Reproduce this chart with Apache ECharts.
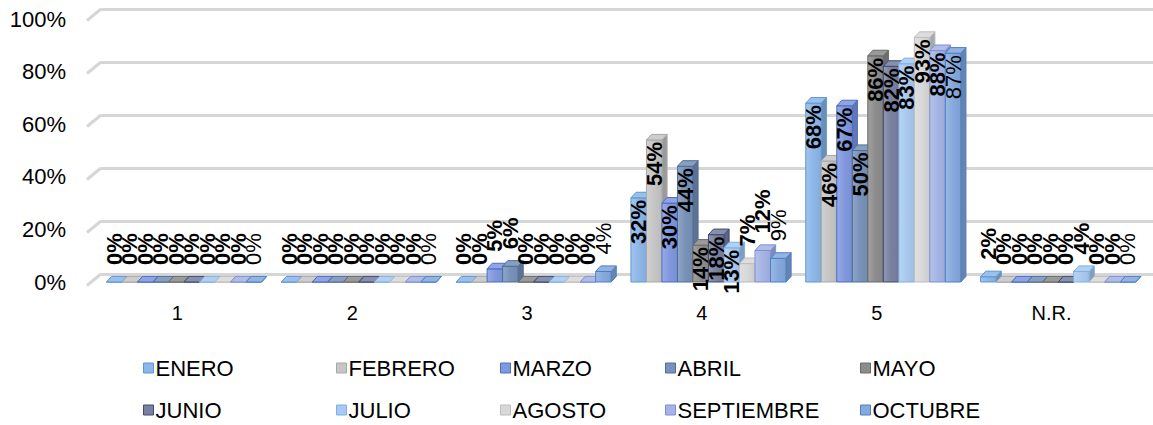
<!DOCTYPE html>
<html>
<head>
<meta charset="utf-8">
<script src="https://cdn.jsdelivr.net/npm/echarts@6/dist/echarts.min.js"></script>
<style>
  html, body { margin: 0; padding: 0; background: #ffffff; }
  #chart { width: 1153px; height: 425px; }
</style>
</head>
<body>
<div id="chart"></div>
<script>
// Answer categories and the share (%) of each month per answer
const categories = ['1', '2', '3', '4', '5', 'N.R.'];
const months = ['ENERO', 'FEBRERO', 'MARZO', 'ABRIL', 'MAYO', 'JUNIO', 'JULIO', 'AGOSTO', 'SEPTIEMBRE', 'OCTUBRE'];
const enero      = [0, 0, 0, 32, 68, 2];
const febrero    = [0, 0, 0, 54, 46, 0];
const marzo      = [0, 0, 5, 30, 67, 0];
const abril      = [0, 0, 6, 44, 50, 0];
const mayo       = [0, 0, 0, 14, 86, 0];
const junio      = [0, 0, 0, 18, 82, 0];
const julio      = [0, 0, 0, 13, 83, 4];
const agosto     = [0, 0, 0, 7, 93, 0];
const septiembre = [0, 0, 0, 12, 88, 0];
const octubre    = [0, 0, 4, 9, 87, 0];
const yTicks = [0, 20, 40, 60, 80, 100];

const monthValues = [enero, febrero, marzo, abril, mayo, junio, julio, agosto, septiembre, octubre];

// Fill and edge colours of each month's columns
const faceColors = ['#8db7e8', '#c6c6c6', '#8198de', '#7892b8', '#8c8c8c', '#79819f', '#a9caef', '#d8d8d8', '#a5b4e4', '#85a9dd'];
const edgeColors = ['#5d97d6', '#a8a8a8', '#4a6ccc', '#4d6e9c', '#6a6a6a', '#3e4a75', '#7db0e8', '#bdbdbd', '#7d91d8', '#4b80c8'];

// Legend placement, two rows of five
const legendSpots = [
  [143, 357], [336, 357], [500, 357], [665, 357], [860, 357],
  [143, 399], [336, 399], [500, 399], [665, 399], [860, 399]
];

const FONT = "'Liberation Sans', Arial, sans-serif";

function shade(hex, f) {
  const n = parseInt(hex.slice(1), 16);
  let r = (n >> 16) & 255, g = (n >> 8) & 255, b = n & 255;
  const t = f < 0 ? 0 : 255, p = Math.abs(f);
  r = Math.round(r + (t - r) * p);
  g = Math.round(g + (t - g) * p);
  b = Math.round(b + (t - b) * p);
  return 'rgb(' + r + ',' + g + ',' + b + ')';
}

// Draws one month's column as a small box: front, top and right side faces
function makeColumn(si) {
  const face = faceColors[si], edge = edgeColors[si];
  return function (params, api) {
    const cat = api.value(0);
    const v = api.value(1);
    const base = api.coord([cat, 0]);
    const top = api.coord([cat, v]);
    const band = api.size([1, 0])[0];
    const slot = band * 0.0887;
    const x0 = base[0] - band * 0.406 + si * slot;
    const x1 = x0 + slot;
    const dx = slot * 0.33, dy = slot * 0.36;
    const y0 = base[1], yt = top[1];

    const frontFill = new echarts.graphic.LinearGradient(0, 0, 1, 0, [
      { offset: 0, color: shade(face, 0.18) },
      { offset: 0.5, color: face },
      { offset: 1, color: shade(face, -0.06) }
    ]);

    const children = [
      {
        type: 'polygon',
        shape: { points: [[x1, yt], [x1 + dx, yt - dy], [x1 + dx, y0 - dy], [x1, y0]] },
        style: { fill: shade(face, -0.22), stroke: edge, lineWidth: 1 }
      },
      {
        type: 'rect',
        shape: { x: x0, y: yt, width: slot, height: y0 - yt },
        style: { fill: frontFill, stroke: edge, lineWidth: 1 }
      },
      {
        type: 'polygon',
        shape: { points: [[x0, yt], [x1, yt], [x1 + dx, yt - dy], [x0 + dx, yt - dy]] },
        style: { fill: shade(face, 0.12), stroke: edge, lineWidth: 1 }
      }
    ];

    // Value label, written upward along the column
    const outside = v < 13;
    children.push({
      type: 'text',
      x: (x0 + x1) / 2,
      y: outside ? yt - 17 : yt + 2,
      rotation: Math.PI / 2,
      z2: 100,
      style: {
        text: v + '%',
        fill: '#000000',
        font: (si === 9 ? 'normal' : 'bold') + ' 22px ' + FONT,
        align: outside ? 'left' : 'right',
        verticalAlign: 'middle'
      }
    });

    return { type: 'group', children: children };
  };
}

// Short slanted strokes joining the floor/wall lines to the left edge
function wallCorner(params, api) {
  const p = api.coord([0, api.value(0)]);
  return {
    type: 'line',
    shape: { x1: p[0] - 14, y1: p[1] + 11.5, x2: p[0], y2: p[1] },
    style: { stroke: '#d6d6d6', lineWidth: 3 }
  };
}

const chart = echarts.init(document.getElementById('chart'), null, { renderer: 'svg' });

const legends = months.map((m, i) => ({
  data: [m],
  left: legendSpots[i][0],
  top: legendSpots[i][1],
  icon: 'rect',
  itemWidth: 10,
  itemHeight: 10,
  itemGap: 0,
  selectedMode: false,
  padding: 0,
  textStyle: { fontFamily: FONT, fontSize: 22, color: '#000000', padding: [0, 0, 0, -3] },
  itemStyle: { borderWidth: 1 }
}));

const series = months.map((m, si) => ({
  type: 'custom',
  name: m,
  xAxisIndex: 0,
  yAxisIndex: 0,
  renderItem: makeColumn(si),
  itemStyle: { color: faceColors[si], borderColor: edgeColors[si], borderWidth: 1 },
  encode: { x: 0, y: 1 },
  clip: false,
  data: monthValues[si].map((v, ci) => [ci, v])
}));

series.unshift({
  type: 'custom',
  name: 'wall',
  xAxisIndex: 1,
  yAxisIndex: 1,
  renderItem: wallCorner,
  encode: { y: 0 },
  clip: false,
  silent: true,
  data: yTicks.map(t => [t])
});

chart.setOption({
  animation: false,
  backgroundColor: '#ffffff',
  legend: legends,
  grid: [
    { left: 90, right: 14, top: 19, bottom: 143 },
    { left: 101, right: 0, top: 9, bottom: 151 }
  ],
  xAxis: [
    {
      type: 'category',
      gridIndex: 0,
      data: categories,
      axisLine: { show: false },
      axisTick: { show: false },
      axisLabel: { color: '#000000', fontSize: 20, fontFamily: FONT, margin: 21 }
    },
    {
      type: 'value',
      gridIndex: 1,
      min: 0,
      max: 1,
      show: false
    }
  ],
  yAxis: [
    {
      type: 'value',
      gridIndex: 0,
      min: 0,
      max: 100,
      interval: 20,
      axisLine: { show: false },
      axisTick: { show: false },
      splitLine: { show: false },
      axisLabel: { color: '#000000', fontSize: 22, fontFamily: FONT, margin: 24, formatter: '{value}%' }
    },
    {
      type: 'value',
      gridIndex: 1,
      min: 0,
      max: 100,
      interval: 20,
      axisLine: { show: false },
      axisTick: { show: false },
      axisLabel: { show: false },
      splitLine: { show: true, lineStyle: { color: '#d6d6d6', width: 3 } }
    }
  ],
  series: series
});
</script>
</body>
</html>
